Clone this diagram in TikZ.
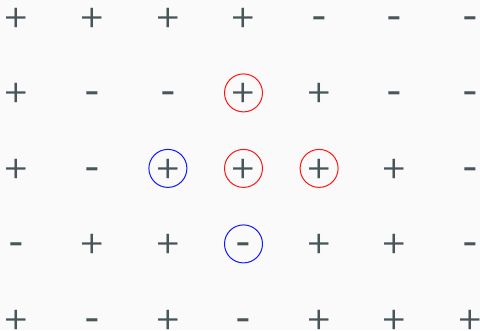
\documentclass[tikz,border=0pt]{standalone}
\usepackage{fontspec}
\setmainfont{Fira Sans}
\newfontfamily\plusfont{Fira Sans ExtraLight}
\definecolor{bg}{RGB}{250,250,250}
\definecolor{sgn}{RGB}{72,86,89}
\definecolor{rc}{RGB}{255,20,20}
\definecolor{bc}{RGB}{20,20,255}
\tikzset{
  psign/.style={anchor=base, text=sgn, inner sep=0pt, yshift=-19pt, font=\plusfont\fontsize{56}{56}\selectfont},
  msign/.style={anchor=base, text=sgn, inner sep=0pt, yshift=-13pt, font=\fontsize{39}{39}\selectfont},
  ring/.style={circle, draw=#1, line width=1pt, minimum size=38pt, inner sep=0pt},
}
\begin{document}
\begin{tikzpicture}[x=1pt,y=-1pt]
\fill[bg] (0,0) rectangle (480,330);
\useasboundingbox (0,0) rectangle (480,330);
\foreach \row/\signs in {0/{p,p,p,p,m,m,m},1/{p,m,m,p,p,m,m},2/{p,m,p,p,p,p,m},3/{m,p,p,m,p,p,m},4/{p,m,p,m,p,p,p}}{
  \foreach \s [count=\c from 0] in \signs {
    \pgfmathsetmacro\xx{16.7+75.6*\c}
    \pgfmathsetmacro\yy{17.4+75.5*\row}
    \if p\s
      \node[psign] (s-\row-\c) at (\xx,\yy) {+};
    \else
      \node[msign] (s-\row-\c) at (\xx,\yy) {-};
    \fi
  }
}
\foreach \row/\c/\col in {1/3/rc,2/3/rc,2/4/rc,2/2/bc,3/3/bc}{
  \pgfmathsetmacro\xx{16.7+75.6*\c}
  \pgfmathsetmacro\yy{17.4+75.5*\row}
  \node[ring=\col] (c-\row-\c) at (\xx,\yy) {};
}
\end{tikzpicture}
\end{document}
